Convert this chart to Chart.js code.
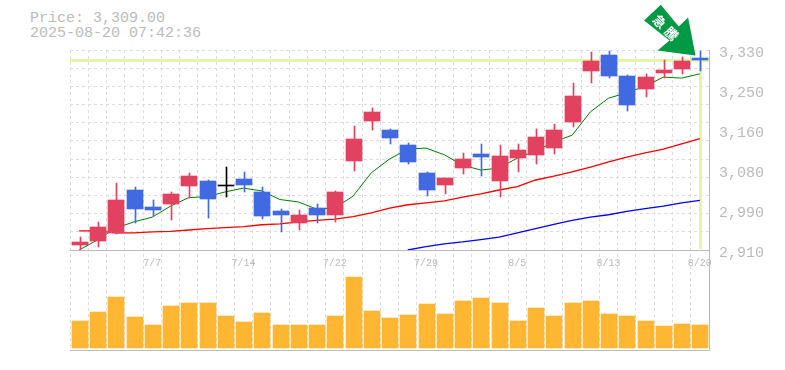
<!DOCTYPE html>
<html>
<head>
<meta charset="utf-8">
<style>
  html, body { margin: 0; padding: 0; background: #fff; }
  #wrap { position: relative; width: 785px; height: 370px; overflow: hidden; }
  #info { position: absolute; left: 30px; top: 11px; font: 15px/15px "Liberation Mono", monospace; color: #bbb; white-space: pre; }
  canvas { position: absolute; left: 0; top: 0; }
</style>
<script src="https://cdn.jsdelivr.net/npm/chart.js@4"></script>
</head>
<body>
<div id="wrap">
  <div id="info">Price: 3,309.00
2025-08-20 07:42:36</div>
  <canvas id="chart" width="785" height="370"></canvas>
</div>
<script>
const dates = ['7/1','7/2','7/3','7/4','7/7','7/8','7/9','7/10','7/11','7/14','7/15','7/16','7/17','7/18','7/22','7/23','7/24','7/25','7/28','7/29','7/30','7/31','8/1','8/4','8/5','8/6','8/7','8/8','8/12','8/13','8/14','8/15','8/18','8/19','8/20'];
const shownDates = ['7/7','7/14','7/22','7/29','8/5','8/13','8/20'];

const opens =  [2920,2929,2946,3036,3000,3007,3044,3055,3047,3059,3032,2992,2967,2998,2984,3097,3181,3162,3130,3072,3047,3082,3112,3055,3103,3109,3124,3179,3286,3319,3275,3248,3282,3290,3313];
const highs =  [2938,2969,3051,3042,3015,3032,3072,3057,3084,3074,3042,2996,2994,3007,3034,3170,3208,3164,3135,3074,3061,3114,3133,3130,3133,3164,3175,3261,3326,3328,3277,3280,3309,3315,3328];
const lows =   [2910,2916,2944,2967,2981,2973,3019,2977,3022,3032,2975,2948,2952,2967,2969,3076,3162,3133,3091,3023,3028,3070,3065,3021,3074,3091,3112,3168,3261,3271,3202,3231,3271,3280,3286];
const closes = [2927,2958,3015,2996,2994,3028,3065,3017,3047,3047,2981,2984,2984,2984,3032,3143,3200,3145,3095,3036,3061,3101,3105,3107,3120,3147,3162,3233,3307,3275,3214,3273,3288,3307,3309];

const maShort = [2910,2931,2956,2969,2979,3002,3020,3022,3032,3040,3034,3016,3011,2996,2998,3023,3072,3101,3122,3124,3110,3088,3078,3082,3103,3118,3137,3151,3200,3229,3240,3254,3273,3271,3280];
const maMid =   [2950,2950,2946,2946,2948,2949,2952,2955,2957,2959,2963,2965,2969,2972,2975,2980,2988,2998,3005,3009,3013,3021,3028,3036,3043,3057,3065,3074,3084,3095,3105,3114,3122,3133,3144];
const maLong =  [null,null,null,null,null,null,null,null,null,null,null,null,null,null,null,null,null,null,2910,2917,2923,2927,2932,2937,2946,2955,2964,2972,2979,2984,2991,2997,3002,3009,3014];

const volumes = [27,36,51,31,23,42,45,45,32,26,35,23,23,23,32,71,37,30,33,44,34,47,50,45,27,40,32,45,47,34,32,27,22,24,23];

const priceMin = 2910;
const priceMax = 3330;
const priceLabels = ['2,910','2,990','3,080','3,160','3,250','3,330'];
const gridSteps = 11;
const lastPrice = 3309;
const arrowText = '急騰';

const RED = '#e2425f';
const BLUE = '#4169e1';
const GREY = '#bbb';

function candleColor(i) {
    if (closes[i] > opens[i]) return RED;
    if (closes[i] < opens[i]) return BLUE;
    return '#000';
}
const candleColors = dates.map((d, i) => candleColor(i));

function snapX(x) {
    return Math.round(x + 0.6);
}

// line up bars on whole pixels, the original has no antialiasing on them
const snapBars = {
    id: 'snapBars',
    afterDatasetsUpdate(chart) {
        chart.data.datasets.forEach((ds, i) => {
            if (ds.type !== 'bar') return;
            chart.getDatasetMeta(i).data.forEach((bar) => {
                const odd = ds.barThickness % 2 === 1;
                bar.x = snapX(bar.x) + (odd ? 0.5 : 0);
                bar.y = Math.round(bar.y);
                bar.base = Math.round(bar.base);
                if (bar.y === bar.base) bar.base = bar.y + 1;
            });
        });
    }
};

// last price guide lines and the arrow over the last candle
const priceMarks = {
    id: 'priceMarks',
    beforeDatasetsDraw(chart) {
        const { ctx, chartArea, scales } = chart;
        const y = Math.round(scales.y.getPixelForValue(lastPrice));
        const x = snapX(scales.x.getPixelForValue(dates.length - 1));
        ctx.save();
        ctx.fillStyle = '#e4f5a8';
        ctx.fillRect(chartArea.left, y - 1, chartArea.right - chartArea.left, 3);
        ctx.fillRect(x - 1, y, 3, scales.y.bottom - y - 1);
        ctx.restore();
    },
    afterDatasetsDraw(chart) {
        const { ctx, scales } = chart;
        const tipX = snapX(scales.x.getPixelForValue(dates.length - 1)) - 4.5;
        const tipY = scales.y.getPixelForValue(lastPrice) - 4.5;
        const outline = [[-34.7,-50.7],[-16.7,-29],[-7.4,-38],[0,0],[-38,-5],[-26,-15],[-51.4,-35]];
        ctx.save();
        ctx.translate(tipX, tipY);
        ctx.fillStyle = '#009944';
        ctx.beginPath();
        outline.forEach(([px, py], i) => i ? ctx.lineTo(px, py) : ctx.moveTo(px, py));
        ctx.closePath();
        ctx.fill();
        ctx.translate(-30, -28);
        ctx.rotate(Math.PI / 4);
        ctx.fillStyle = '#fff';
        ctx.font = 'bold 13px "Noto Sans CJK JP"';
        ctx.letterSpacing = '4px';
        ctx.textAlign = 'center';
        ctx.textBaseline = 'middle';
        ctx.fillText(arrowText, 2, 0);
        ctx.restore();
    }
};

new Chart(document.getElementById('chart'), {
    data: {
        labels: dates,
        datasets: [
            {
                type: 'bar',
                yAxisID: 'yVol',
                data: volumes,
                backgroundColor: '#ffb733',
                barThickness: 16,
                grouped: false,
                order: 5
            },
            {
                type: 'line',
                data: maLong,
                borderColor: '#00f',
                borderWidth: 1.3,
                pointRadius: 0,
                order: 4
            },
            {
                type: 'line',
                data: maMid,
                borderColor: '#f00',
                borderWidth: 1.3,
                pointRadius: 0,
                order: 4
            },
            {
                type: 'line',
                data: maShort,
                borderColor: '#008000',
                borderWidth: 1,
                pointRadius: 0,
                order: 4
            },
            {
                type: 'bar',
                data: dates.map((d, i) => [lows[i], highs[i]]),
                backgroundColor: candleColors,
                barThickness: 1,
                grouped: false,
                order: 2
            },
            {
                type: 'bar',
                data: dates.map((d, i) => [opens[i], closes[i]]),
                backgroundColor: candleColors,
                barThickness: 16,
                grouped: false,
                order: 1
            }
        ]
    },
    options: {
        responsive: false,
        animation: false,
        events: [],
        layout: { padding: { left: 70, top: 50, right: 0, bottom: 20 } },
        plugins: { legend: { display: false }, tooltip: { enabled: false } },
        scales: {
            x: {
                type: 'category',
                position: { y: priceMin },
                offset: true,
                grid: { offset: true, color: '#ddd', drawTicks: false },
                border: { color: GREY, dash: [3, 3] },
                ticks: {
                    autoSkip: false,
                    maxRotation: 0,
                    padding: 7,
                    color: GREY,
                    font: { family: '"Liberation Mono", monospace', size: 10 },
                    callback(value) {
                        const label = dates[value];
                        return shownDates.includes(label) ? label : '';
                    }
                }
            },
            y: {
                position: 'right',
                stack: 'panels',
                stackWeight: 2,
                min: priceMin,
                max: priceMax,
                afterFit(scale) { scale.width = 76; },
                afterBuildTicks(scale) {
                    const grid = [];
                    for (let k = 0; k <= gridSteps; k++) {
                        grid.push({ value: priceMin + (priceMax - priceMin) * k / gridSteps });
                    }
                    const labelled = priceLabels.map((t, k) => ({
                        value: priceMin + (priceMax - priceMin) * k / (priceLabels.length - 1),
                        text: t
                    }));
                    scale.ticks = grid.concat(labelled);
                },
                grid: {
                    drawTicks: false,
                    color: (ctx) => (ctx.tick && ctx.tick.text ? 'transparent' : '#ddd')
                },
                border: { color: GREY, dash: [3, 3] },
                ticks: {
                    autoSkip: false,
                    padding: 10,
                    labelOffset: 3,
                    color: GREY,
                    font: { family: '"Liberation Mono", monospace', size: 15 },
                    callback(value, index, ticks) { return ticks[index].text || ''; }
                }
            },
            yVol: {
                position: 'right',
                stack: 'panels',
                stackWeight: 1,
                min: -2,
                max: 98,
                afterFit(scale) { scale.width = 76; },
                afterBuildTicks(scale) { scale.ticks = [{ value: -2 }]; },
                grid: { drawTicks: false, color: GREY },
                border: { color: GREY },
                ticks: { display: false }
            }
        }
    },
    plugins: [snapBars, priceMarks]
});
</script>
</body>
</html>
